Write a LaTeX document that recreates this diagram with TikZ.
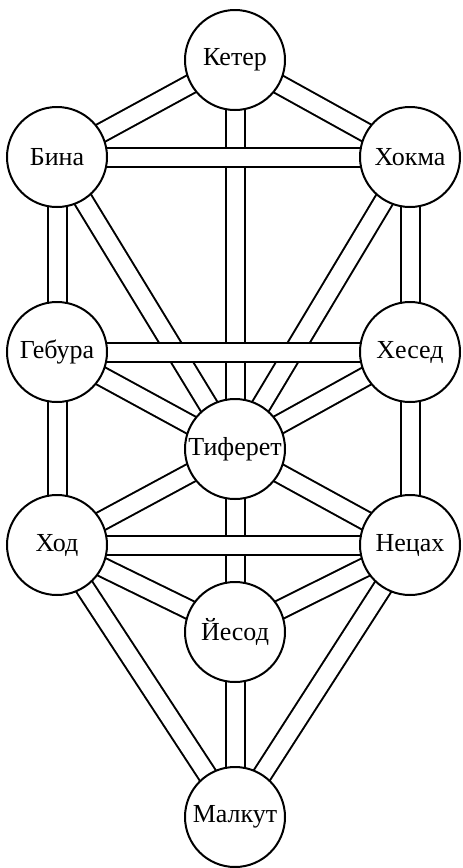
\documentclass[tikz,border=0pt]{standalone}
\usepackage{fontspec}
\setmainfont{Liberation Serif}
\usetikzlibrary{backgrounds}

\begin{document}
\begin{tikzpicture}[x=0.5pt, y=-0.5pt,
        sefira/.style={draw, circle, fill=white, line width=1pt, minimum size=50pt, inner sep=0pt, font=\fontsize{13}{15}\selectfont},
        channel/.style={draw, line width=1pt, double=white, double distance=8.5pt}]
        \useasboundingbox (0,0) rectangle (462,868);
        \node[sefira] (keter) at (235, 60) {Кетер};
        \node[sefira] (bina) at (57, 157) {Бина};
        \node[sefira] (hokma) at (410, 157) {Хокма};
        \node[sefira] (gebura) at (57, 352) {Гебура};
        \node[sefira] (hesed) at (410, 352) {Хесед};
        \node[sefira] (tiferet) at (235, 449) {Тиферет};
        \node[sefira] (hod) at (57, 545) {Ход};
        \node[sefira] (netsah) at (410, 545) {Нецах};
        \node[sefira] (yesod) at (235, 632) {Йесод};
        \node[sefira] (malkut) at (235, 817) {Малкут};
        
        \begin{scope}[on background layer]
        % diagonal channels
        \draw[channel] (keter.center) -- (bina.center);
        \draw[channel] (keter.center) -- (hokma.center);
        \draw[channel] (bina.center) -- (tiferet.center);
        \draw[channel] (hokma.center) -- (tiferet.center);
        \draw[channel] (gebura.center) -- (tiferet.center);
        \draw[channel] (hesed.center) -- (tiferet.center);
        \draw[channel] (hod.center) -- (tiferet.center);
        \draw[channel] (netsah.center) -- (tiferet.center);
        \draw[channel] (hod.center) -- (yesod.center);
        \draw[channel] (netsah.center) -- (yesod.center);
        \draw[channel] (hod.center) -- (malkut.center);
        \draw[channel] (netsah.center) -- (malkut.center);
        % vertical channels
        \draw[channel] (keter.center) -- (tiferet.center);
        \draw[channel] (tiferet.center) -- (yesod.center);
        \draw[channel] (yesod.center) -- (malkut.center);
        \draw[channel] (bina.center) -- (gebura.center);
        \draw[channel] (gebura.center) -- (hod.center);
        \draw[channel] (hokma.center) -- (hesed.center);
        \draw[channel] (hesed.center) -- (netsah.center);
        % horizontal channels
        \draw[channel] (bina.center) -- (hokma.center);
        \draw[channel] (gebura.center) -- (hesed.center);
        \draw[channel] (hod.center) -- (netsah.center);
        \end{scope}
    \end{tikzpicture}
\end{document}
